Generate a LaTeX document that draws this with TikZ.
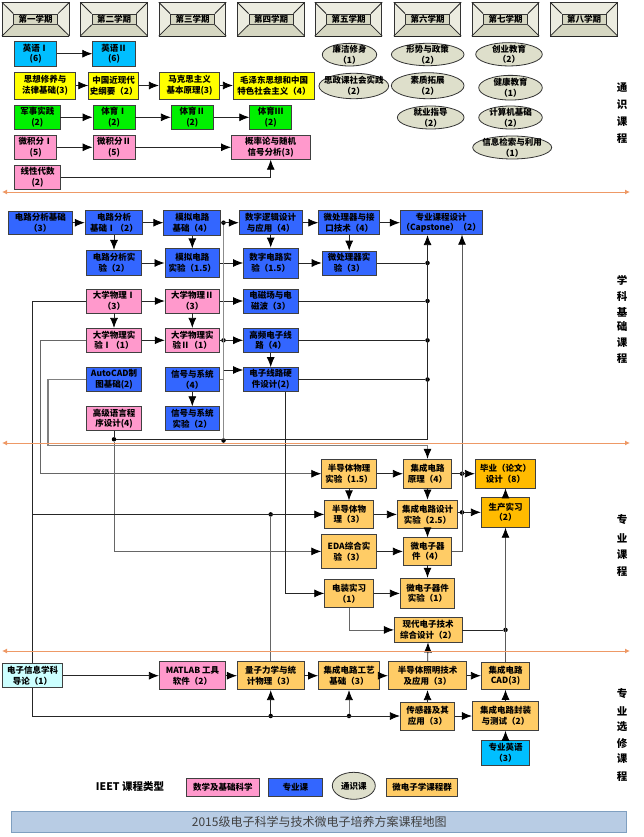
\documentclass[tikz,border=0pt]{standalone}
\usepackage{fontspec}
\setmainfont{Noto Sans CJK SC}
\usetikzlibrary{shapes,arrows.meta}
\definecolor{fillblue}{HTML}{3366FF}
\definecolor{fillpink}{HTML}{FF99CC}
\definecolor{fillyellow}{HTML}{FFFF00}
\definecolor{fillgreen}{HTML}{00F000}
\definecolor{fillsky}{HTML}{00BFFF}
\definecolor{fillgold}{HTML}{FFCC66}
\definecolor{fillamber}{HTML}{FFBB00}
\definecolor{fillpale}{HTML}{CCFFFF}
\definecolor{fillstone}{HTML}{DEDFCB}
\definecolor{framelight}{HTML}{ECECE0}
\definecolor{framedark}{HTML}{D6D7C2}
\definecolor{fillbar}{HTML}{B8CCE4}
\definecolor{edgebar}{HTML}{7F9FC0}
\definecolor{rule}{HTML}{EE9966}
\newcommand{\coursefont}{\fontsize{8.5}{10.7}\selectfont\bfseries}
\tikzset{wh/.style 2 args={minimum width=#1pt, minimum height=#2pt}}
\tikzstyle{block} = [draw=black!75, line width=0.8pt, rectangle, inner sep=0pt, align=center, font=\coursefont]
\tikzstyle{blue} = [block, fill=fillblue]
\tikzstyle{pink} = [block, fill=fillpink]
\tikzstyle{yellow} = [block, fill=fillyellow]
\tikzstyle{green} = [block, fill=fillgreen]
\tikzstyle{sky} = [block, fill=fillsky]
\tikzstyle{gold} = [block, fill=fillgold]
\tikzstyle{amber} = [block, fill=fillamber]
\tikzstyle{general} = [draw=black!80, line width=0.8pt, ellipse, inner sep=0pt, fill=fillstone, label distance=0pt]
\tikzstyle{etext} = [align=center, font=\coursefont, inner sep=0pt]
\tikzstyle{term} = [draw=black!80, line width=0.8pt, rectangle, inner sep=0pt, fill=framelight, align=center, font=\coursefont]
\tikzstyle{dot} = [circle, fill=black, inner sep=0pt, minimum size=4.5pt]
\tikzstyle{side} = [font=\fontsize{10.5}{12}\selectfont\bfseries, inner sep=0pt]
\tikzstyle{link} = [draw=black!85, line width=0.8pt, -{Latex[length=10pt,width=8pt,black]}]
\tikzstyle{line} = [draw=black!85, line width=0.8pt]
\tikzstyle{trunk} = [draw=black!45, line width=1.3pt]
\tikzstyle{bound} = [draw=rule, line width=1pt, {Latex[length=5pt,width=5pt]}-{Latex[length=5pt,width=5pt]}]

\begin{document}
\begin{tikzpicture}[x=1pt, y=-1pt]
    \useasboundingbox (0,0) rectangle (643,837);

    % Semester headers
    \foreach \i/\xs/\name in {1/35.7/第一学期, 2/114/第二学期, 3/192.5/第三学期, 4/271/第四学期,
            5/348.5/第五学期, 6/427.5/第六学期, 7/505.5/第七学期, 8/584/第八学期} {
        \node [term, wh={66.7}{33}] (sem\i) at (\xs,19.2) {};
        \node [term, fill=framedark, wh={44}{10.5}] (tag\i) at (\xs,19.2) {\name};
        \fill [framedark] (sem\i.south west) -- (tag\i.south west) -- (tag\i.south east) -- (sem\i.south east) -- cycle;
        \draw [line] (sem\i.north west) -- (tag\i.north west);
        \draw [line] (sem\i.north east) -- (tag\i.north east);
        \draw [line] (sem\i.south west) -- (tag\i.south west);
        \draw [line] (sem\i.south east) -- (tag\i.south east);
        \draw [line] (sem\i.south west) -- (sem\i.south east);
    }

    % General education blocks
    \node [sky, wh={42}{24.7}] (en1) at (35.7,53.7) {英语Ⅰ\\(6)};
    \node [sky, wh={42.6}{24.7}] (en2) at (114,53.7) {英语Ⅱ\\(6)};
    \node [yellow, wh={60.6}{27}] (sx) at (45,85.5) {思想修养与\\法律基础(3)};
    \node [yellow, wh={50}{27}] (zg) at (113.7,85.5) {中国近现代\\史纲要（2）};
    \node [yellow, wh={60.4}{27}] (mk) at (189.5,85.5) {马克思主义\\基本原理(3)};
    \node [yellow, wh={81.4}{27}] (mz) at (274,85.5) {毛泽东思想和中国\\特色社会主义（4）};
    \node [green, wh={45.3}{24}] (js) at (37.3,117.3) {军事实践\\(2)};
    \node [green, wh={42}{24}] (ty1) at (114,117.3) {体育Ⅰ\\(2)};
    \node [green, wh={42}{24}] (ty2) at (192.3,117.3) {体育Ⅱ\\(2)};
    \node [green, wh={42}{24}] (ty3) at (270.7,117.3) {体育Ⅲ\\(2)};
    \node [pink, wh={42}{24}] (wj1) at (35.7,147.3) {微积分Ⅰ\\(5)};
    \node [pink, wh={42}{24}] (wj2) at (114,147.3) {微积分Ⅱ\\(5)};
    \node [pink, wh={78.6}{24}] (gl) at (270.7,147.3) {概率论与随机\\信号分析(3)};
    \node [pink, wh={45.6}{24}] (xx) at (37.5,177.3) {线性代数\\(2)};

    % General education ellipses
    \node [general, wh={54.4}{22.7}, label={[etext]center:廉洁修身\\（1）}] (lj) at (349.5,54.7) {};
    \node [general, wh={69.7}{25.4}, label={[etext]center:思政课社会实践\\（2）}] (sz) at (353.8,86) {};
    \node [general, wh={72.7}{22.4}, label={[etext]center:形势与政策\\（2）}] (xs) at (427.7,54.5) {};
    \node [general, wh={72.7}{26}, label={[etext]center:素质拓展\\（2）}] (sz2) at (427.7,85.7) {};
    \node [general, wh={66.7}{23}, label={[etext]center:就业指导\\（2）}] (jy) at (430.7,117.5) {};
    \node [general, wh={66.6}{23.3}, label={[etext]center:创业教育\\（2）}] (cy) at (509,54.3) {};
    \node [general, wh={63.6}{24.7}, label={[etext]center:健康教育\\（1）}] (jk) at (510.5,87.7) {};
    \node [general, wh={63.6}{23}, label={[etext]center:计算机基础\\（2）}] (jsj) at (510.5,117.5) {};
    \node [general, wh={79}{23}, label={[etext]center:信息检索与利用\\（1）}] (xxj) at (512.2,147.5) {};

    % Discipline blocks
    \node [blue, wh={63.3}{23.3}] (dl0) at (40.3,222.7) {电路分析基础\\（3）};
    \node [blue, wh={57.7}{24}] (dl1) at (114,222.7) {电路分析\\基础Ⅰ（2）};
    \node [blue, wh={57}{25.4}] (mn) at (192.3,222.7) {模拟电路\\基础（4）};
    \node [blue, wh={63}{24}] (sz3) at (270.7,222.7) {数字逻辑设计\\与应用（4）};
    \node [blue, wh={61}{24}] (wc) at (349.2,222.7) {微处理器与接\\口技术（4）};
    \node [blue, wh={81.7}{24}] (cap) at (441.2,222.7) {专业课程设计\\（Capstone）（2）};
    \node [blue, wh={54.3}{25.3}] (dls) at (114,263) {电路分析实\\验（2）};
    \node [blue, wh={54.7}{28.4}] (mns) at (192.3,263) {模拟电路\\实验（1.5）};
    \node [blue, wh={54.4}{30}] (szs) at (270.7,263) {数字电路实\\验（1.5）};
    \node [blue, wh={54.3}{24}] (wcs) at (349.2,263) {微处理器实\\验（3）};
    \node [pink, wh={54.3}{24}] (dw1) at (114,301) {大学物理Ⅰ\\（3）};
    \node [pink, wh={54.3}{24}] (dw2) at (192.3,301) {大学物理Ⅱ\\（3）};
    \node [blue, wh={54.4}{24}] (dc) at (270.7,301) {电磁场与电\\磁波（3）};
    \node [pink, wh={54.3}{24}] (ds1) at (114,340.3) {大学物理实\\验Ⅰ（1）};
    \node [pink, wh={54.3}{24}] (ds2) at (192.3,340.3) {大学物理实\\验Ⅱ（1）};
    \node [blue, wh={54.4}{24}] (gp) at (270.7,340.3) {高频电子线\\路（4）};
    \node [blue, wh={54.4}{24}] (yj) at (270.7,379.5) {电子线路硬\\件设计(2)};
    \node [blue, wh={54.3}{24}] (acad) at (114,379.5) {AutoCAD制\\图基础(2)};
    \node [blue, wh={54.3}{24}] (xh) at (192.3,379.5) {信号与系统\\（4）};
    \node [pink, wh={54.3}{24}] (gj) at (114,418.7) {高级语言程\\序设计(4)};
    \node [blue, wh={54.3}{24}] (xhs) at (192.3,418.7) {信号与系统\\实验（2）};

    % Major blocks
    \node [gold, wh={54.6}{28.7}] (bds) at (349,473.7) {半导体物理\\实验（1.5）};
    \node [gold, wh={48.4}{28.7}] (jc) at (427.5,473.7) {集成电路\\原理（4）};
    \node [amber, wh={60.4}{28.6}] (by) at (505.5,473.7) {毕业（论文）\\设计（8）};
    \node [amber, wh={48.4}{30}] (sc) at (505.5,512.3) {生产实习\\（2）};
    \node [gold, wh={48.6}{27.3}] (bd) at (349,514.4) {半导体物\\理（3）};
    \node [gold, wh={60.4}{28.7}] (jcs) at (427.5,514.4) {集成电路设计\\实验（2.5）};
    \node [gold, wh={54.6}{33.3}] (eda) at (349,551.4) {EDA综合实\\验（3）};
    \node [gold, wh={48.4}{27.3}] (wd) at (427.5,551.4) {微电子器\\件（4）};
    \node [gold, wh={48.6}{28.3}] (dz) at (349,593.4) {电装实习\\（1）};
    \node [gold, wh={54.4}{30.4}] (wds) at (427.5,593.4) {微电子器件\\实验（1）};
    \node [gold, wh={67.7}{24.3}] (xd) at (428.2,629.9) {现代电子技术\\综合设计（2）};

    % Elective blocks
    \node [block, fill=fillpale, wh={60.4}{24}] (dr) at (32.5,675.7) {电子信息学科\\导论（1）};
    \node [pink, wh={66.4}{28}] (ml) at (192.5,675.7) {MATLAB 工具\\软件（2）};
    \node [gold, wh={66.7}{28}] (lz) at (270.7,675.7) {量子力学与统\\计物理（3）};
    \node [gold, wh={61}{28}] (gy) at (349,675.7) {集成电路工艺\\基础（3）};
    \node [gold, wh={78.4}{28}] (zm) at (427.5,675.7) {半导体照明技术\\及应用（3）};
    \node [gold, wh={48.4}{27.3}] (cad) at (505.5,675.7) {集成电路\\CAD(3)};
    \node [gold, wh={54.4}{28}] (cg) at (427.5,716) {传感器及其\\应用（3）};
    \node [gold, wh={66.3}{28.7}] (fz) at (505.5,716) {集成电路封装\\与测试（2）};
    \node [sky, wh={47.4}{25.7}] (zy) at (505.5,752.8) {专业英语\\（3）};

    % Junctions
    \node [dot] (jm) at (223.5,222.7) {};
    \node [dot] (js2) at (223.5,340.3) {};
    \node [dot] (jt) at (223.5,440.5) {};
    \coordinate (jh) at (223.5,370);
    \coordinate (kb) at (427.5,439.3);
    \node [dot] (k1) at (kb |- wcs) {};
    \node [dot] (k2) at (kb |- dc) {};
    \node [dot] (k3) at (kb |- gp) {};
    \node [dot] (k4) at (kb |- yj) {};
    \node [dot] (ga) at (gj |- kb) {};
    \coordinate (ac) at (48,445.7);
    \coordinate (ee) at (40,473.7);
    \coordinate (hh) at (285.7,391.5);
    \coordinate (capb) at (462,234.7);
    \node [dot] (m1) at (capb |- jc) {};
    \node [dot] (m2) at (capb |- sc) {};
    \node [dot] (jl) at (lz |- bd) {};
    \coordinate (fb) at (dr |- bd);
    \node [dot] (jx) at (sc |- xd) {};
    \node [dot] (q1) at (lz |- cg) {};
    \node [dot] (q2) at (gy |- cg) {};

    % Connectors, general education
    \draw [link] (en1) -- (en2);
    \draw [link] (sx) -- (zg);
    \draw [link] (zg) -- (mk);
    \draw [link] (mk) -- (mz);
    \draw [link] (js) -- (ty1);
    \draw [link] (ty1) -- (ty2);
    \draw [link] (ty2) -- (ty3);
    \draw [link] (wj1) -- (wj2);
    \draw [link] (wj2) -- (gl);
    \draw [link] (xx) -| (gl);

    % Connectors, discipline
    \draw [link] (dl0) -- (dl1);
    \draw [link] (dl1) -- (mn);
    \draw [link] (mn) -- (sz3);
    \draw [link] (sz3) -- (wc);
    \draw [link] (wc) -- (cap);
    \draw [link] (dl1) -- (dls);
    \draw [link] (mn) -- (mns);
    \draw [link] (sz3) -- (szs);
    \draw [link] (wc) -- (wcs);
    \draw [link] (dls) -- (mns);
    \draw [link] (mns) -- (szs);
    \draw [link] (szs) -- (wcs);
    \draw [link] (dw1) -- (dw2);
    \draw [link] (dw2) -- (dc);
    \draw [link] (dw1) -- (ds1);
    \draw [link] (dw2) -- (ds2);
    \draw [link] (ds1) -- (ds2);
    \draw [link] (ds2) -- (gp);
    \draw [link] (gp) -- (yj);
    \draw [link] (xh) -- (xhs);
    \draw [trunk] (jm) -- (jt);
    \draw [link] (jh) -- (jh -| yj.west);
    \draw [line, draw=black!50] (xh) -- (jh |- xh);
    \draw [link] (kb) -- (kb |- cap.south);
    \draw [line] (wcs) -- (k1);
    \draw [line] (dc) -- (k2);
    \draw [line] (gp) -- (k3);
    \draw [line] (yj) -- (k4);
    \draw [line] (ga) -- (kb);
    \draw [line] (gj) -- (ga);

    % Connectors, into the major courses
    \draw [link, draw=black!60] (ga) |- (eda);
    \draw [link, draw=black!50, line width=1.2pt] (acad) -| (ac) -| (jc);
    \draw [line] (dw1) -| (dr);
    \draw [link] (fb) -- (bd);
    \draw [link, draw=black!60] (ds1) -| (ee) -- (bds);
    \draw [link] (hh) |- (dz);
    \draw [line, draw=black!60] (lz) -- (jl);

    % Connectors, major
    \draw [link] (bds) -- (jc);
    \draw [link] (jc) -- (by);
    \draw [link] (bds) -- (bd);
    \draw [link] (bd) -- (jcs);
    \draw [link] (jc) -- (jcs);
    \draw [line] (jcs.east |- m2) -- (m2);
    \draw [link] (m2) -- (sc);
    \draw [link] (jcs) -- (wd);
    \draw [link] (eda) -- (wd);
    \draw [link] (wd) -- (wds);
    \draw [link] (dz) -- (wds);
    \draw [link, draw=black!60] (dz) |- (xd);
    \draw [link, draw=black!65] (wd) -| (capb);
    \draw [line] (xd) -- (jx);
    \draw [link, draw=black!65] (cad) -- (sc);
    \draw [link] (sc) -- (by);

    % Connectors, electives
    \draw [link] (dr) -- (ml);
    \draw [link] (ml) -- (lz);
    \draw [link] (lz) -- (gy);
    \draw [link] (gy) -- (zm);
    \draw [link] (zm) -- (cad);
    \draw [link] (dr) |- (cg);
    \draw [link] (q1) -- (lz);
    \draw [link, draw=black!55] (q2) -- (gy);
    \draw [link] (cg) -- (fz);
    \draw [link] (cg) -- (zm);
    \draw [link] (zm) -- (xd);
    \draw [link] (fz) -- (cad);
    \draw [link] (zy) -- (fz);

    % Boundaries between course groups
    \foreach \i/\ys in {1/192, 2/443, 3/651} {
        \coordinate (bl\i) at (2,\ys);
        \coordinate (br\i) at (630,\ys);
        \draw [bound] (bl\i) -- (br\i);
    }

    % Side titles
    \foreach \i/\ys/\name in {1/88/通, 2/105/识, 3/122/课, 4/139/程,
            5/280/学, 6/296.7/科, 7/312.3/基, 8/327/础, 9/342.3/课, 10/358.3/程,
            11/520/专, 12/538/业, 13/555/课, 14/572/程,
            15/694/专, 16/711/业, 17/727/选, 18/743/修, 19/759/课, 20/777/程} {
        \node [side] (title\i) at (622,\ys) {\name};
    }

    % Legend and title bar
    \node [etext, font=\fontsize{10.5}{12}\selectfont\bfseries] (key) at (130,786.7) {IEET 课程类型};
    \node [pink, wh={72.3}{18}] (key1) at (222.8,787.7) {数学及基础科学};
    \node [blue, wh={54.7}{18}] (key2) at (295.3,787.7) {专业课};
    \node [general, wh={43}{27}, label={[etext]center:通识课}] (key3) at (353.8,785.8) {};
    \node [gold, wh={71.4}{18}] (key4) at (422,787.7) {微电子学课程群};
    \node [draw=edgebar, fill=fillbar, line width=0.8pt, inner sep=0pt, wh={615}{21},
        font=\fontsize{12}{14}\selectfont, text=black!75] (bar) at (319.2,822.2) {2015级电子科学与技术微电子培养方案课程地图};
\end{tikzpicture}
\end{document}
